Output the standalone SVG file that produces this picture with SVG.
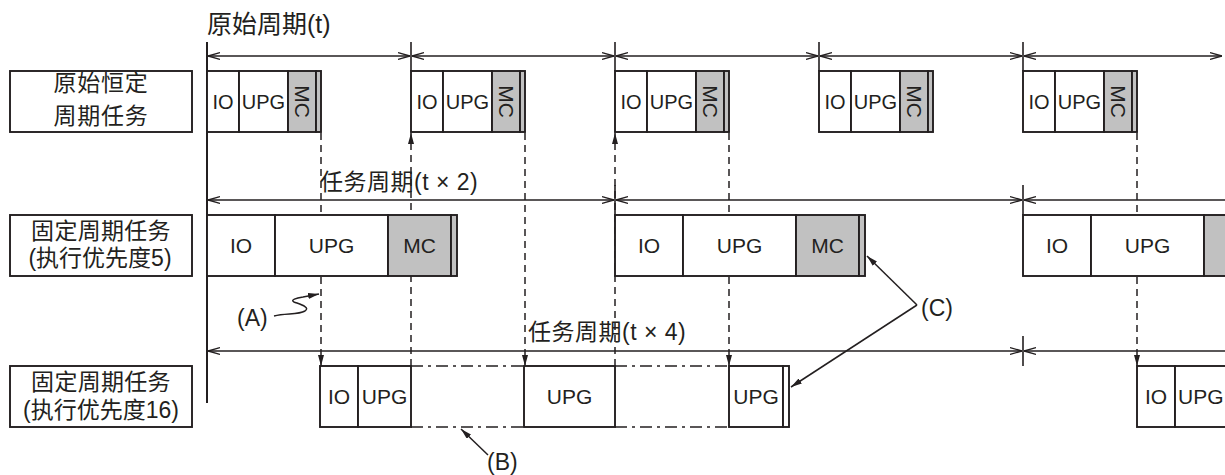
<svg xmlns="http://www.w3.org/2000/svg" width="1225" height="475" viewBox="0 0 1225 475">
<style>
.bg{fill:#fff}
.box{fill:#fff;stroke:#231f20;stroke-width:1.9}
.mc{fill:#c1c1c1;stroke:#231f20;stroke-width:1.9}
.lbl{fill:#fff;stroke:#231f20;stroke-width:1.9}
.t{font-family:"Liberation Sans","Noto Sans CJK SC",sans-serif;fill:#231f20}
.cn{font-family:"Liberation Sans","Noto Sans CJK SC",sans-serif;fill:#231f20;font-size:23px;text-anchor:middle}
.c{text-anchor:middle;font-size:21px}
.ct{text-anchor:middle;font-size:20px}
.dash{stroke:#333;stroke-width:1.3;stroke-dasharray:7 5;fill:none}
.dd{stroke:#231f20;stroke-width:1.7;stroke-dasharray:12 5 3 5;fill:none}
.per{stroke:#231f20;stroke-width:1.3;fill:none;marker-start:url(#open);marker-end:url(#open)}
.perL{stroke:#231f20;stroke-width:1.3;fill:none;marker-start:url(#open)}
.tick{stroke:#231f20;stroke-width:1.6}
.ptr{stroke:#231f20;stroke-width:1.5;fill:none;marker-end:url(#fill)}
</style>
<defs>
<marker id="open" viewBox="0 0 12 8" refX="12" refY="4" markerWidth="12" markerHeight="8" markerUnits="userSpaceOnUse" orient="auto-start-reverse">
<path d="M0,0.6 L12,4 L0,7.4" fill="none" stroke="#231f20" stroke-width="1.3"/>
</marker>
<marker id="fill" viewBox="0 0 11 6" refX="11" refY="3" markerWidth="11" markerHeight="6" markerUnits="userSpaceOnUse" orient="auto">
<path d="M0,0 L11,3 L0,6 Z" fill="#231f20"/>
</marker>
</defs>
<rect class="bg" x="0" y="0" width="1225" height="475"/>

<g id="connectors">
<line class="dash ptr" x1="321" y1="133" x2="321" y2="366"/>
<line class="dash ptr" x1="411" y1="366" x2="411" y2="133"/>
<line class="dash ptr" x1="525" y1="133" x2="525" y2="366"/>
<line class="dash ptr" x1="615" y1="366" x2="615" y2="133"/>
<line class="dash ptr" x1="729" y1="133" x2="729" y2="366"/>
<line class="dash ptr" x1="1137" y1="133" x2="1137" y2="366"/>
<line x1="207" y1="42" x2="207" y2="403" stroke="#231f20" stroke-width="2"/>
<line class="tick" x1="411" y1="42" x2="411" y2="71"/>
<line class="tick" x1="615" y1="42" x2="615" y2="71"/>
<line class="tick" x1="819" y1="42" x2="819" y2="71"/>
<line class="tick" x1="1023" y1="42" x2="1023" y2="71"/>
<line class="per" x1="208" y1="56" x2="410" y2="56"/>
<line class="per" x1="412" y1="56" x2="614" y2="56"/>
<line class="per" x1="616" y1="56" x2="818" y2="56"/>
<line class="per" x1="820" y1="56" x2="1022" y2="56"/>
<line class="per" x1="1024" y1="56" x2="1222" y2="56"/>
<line class="tick" x1="615" y1="185" x2="615" y2="215"/>
<line class="tick" x1="1023" y1="185" x2="1023" y2="215"/>
<line class="per" x1="208" y1="200" x2="614" y2="200"/>
<line class="per" x1="616" y1="200" x2="1022" y2="200"/>
<line class="perL" x1="1024" y1="200" x2="1225" y2="200"/>
<line class="tick" x1="1023" y1="336" x2="1023" y2="366"/>
<line class="per" x1="208" y1="351" x2="1022" y2="351"/>
<line class="perL" x1="1024" y1="351" x2="1225" y2="351"/>
<path class="ptr" d="M274,316 C286,313 298,315 305,311 C311,307 299,304 294,302 C290,300 296,298 303,297 L319,294"/>
<line class="ptr" x1="488" y1="455" x2="461" y2="429"/>
<line class="ptr" x1="917" y1="305" x2="867" y2="256"/>
<line class="ptr" x1="917" y1="305" x2="791" y2="387"/>
</g>

<g id="title"><text class="t" x="207" y="33" font-size="25">原始周期(t)</text></g>
<g id="label-t2"><text class="t" x="320" y="190" font-size="23" letter-spacing="0.5">任务周期(t × 2)</text></g>
<g id="label-t4"><text class="t" x="528" y="340" font-size="23" letter-spacing="0.5">任务周期(t × 4)</text></g>
<g id="label-A"><text class="t" x="237" y="326" font-size="23">(A)</text></g>
<g id="label-B"><text class="t" x="487" y="470" font-size="23">(B)</text></g>
<g id="label-C"><text class="t" x="921" y="316" font-size="23">(C)</text></g>

<g id="row1-label">
<rect class="lbl" x="10" y="71" width="182" height="61"/>
<text class="cn" x="101" y="91" letter-spacing="0.8">原始恒定</text>
<text class="cn" x="101" y="124" letter-spacing="0.8">周期任务</text>
</g>
<g id="row2-label">
<rect class="lbl" x="10" y="215" width="182" height="61"/>
<text class="cn" x="101" y="239" letter-spacing="0.3">固定周期任务</text>
<text class="cn" x="100" y="266">(执行优先度5)</text>
</g>
<g id="row3-label">
<rect class="lbl" x="10" y="366" width="182" height="61"/>
<text class="cn" x="101" y="390" letter-spacing="0.3">固定周期任务</text>
<text class="cn" x="101" y="418">(执行优先度16)</text>
</g>

<g id="top1" transform="translate(207,71)">
<rect class="box" x="0" y="0" width="32" height="61"/><rect class="box" x="32" y="0" width="49" height="61"/>
<rect class="mc" x="81" y="0" width="28" height="61"/><rect class="mc" x="109" y="0" width="5" height="61"/>
<text class="t ct" x="16" y="38">IO</text><text class="t ct" x="56.5" y="38">UPG</text>
<text class="t c" transform="translate(95,30.5) rotate(90)" y="7">MC</text>
</g>
<g id="top2" transform="translate(411,71)">
<rect class="box" x="0" y="0" width="32" height="61"/><rect class="box" x="32" y="0" width="49" height="61"/>
<rect class="mc" x="81" y="0" width="28" height="61"/><rect class="mc" x="109" y="0" width="5" height="61"/>
<text class="t ct" x="16" y="38">IO</text><text class="t ct" x="56.5" y="38">UPG</text>
<text class="t c" transform="translate(95,30.5) rotate(90)" y="7">MC</text>
</g>
<g id="top3" transform="translate(615,71)">
<rect class="box" x="0" y="0" width="32" height="61"/><rect class="box" x="32" y="0" width="49" height="61"/>
<rect class="mc" x="81" y="0" width="28" height="61"/><rect class="mc" x="109" y="0" width="5" height="61"/>
<text class="t ct" x="16" y="38">IO</text><text class="t ct" x="56.5" y="38">UPG</text>
<text class="t c" transform="translate(95,30.5) rotate(90)" y="7">MC</text>
</g>
<g id="top4" transform="translate(819,71)">
<rect class="box" x="0" y="0" width="32" height="61"/><rect class="box" x="32" y="0" width="49" height="61"/>
<rect class="mc" x="81" y="0" width="28" height="61"/><rect class="mc" x="109" y="0" width="5" height="61"/>
<text class="t ct" x="16" y="38">IO</text><text class="t ct" x="56.5" y="38">UPG</text>
<text class="t c" transform="translate(95,30.5) rotate(90)" y="7">MC</text>
</g>
<g id="top5" transform="translate(1023,71)">
<rect class="box" x="0" y="0" width="32" height="61"/><rect class="box" x="32" y="0" width="49" height="61"/>
<rect class="mc" x="81" y="0" width="28" height="61"/><rect class="mc" x="109" y="0" width="5" height="61"/>
<text class="t ct" x="16" y="38">IO</text><text class="t ct" x="56.5" y="38">UPG</text>
<text class="t c" transform="translate(95,30.5) rotate(90)" y="7">MC</text>
</g>

<g id="mid1" transform="translate(207,215)">
<rect class="box" x="0" y="0" width="68" height="61"/><rect class="box" x="68" y="0" width="113" height="61"/>
<rect class="mc" x="181" y="0" width="63" height="61"/><rect class="mc" x="244" y="0" width="6" height="61"/>
<text class="t c" x="34" y="38">IO</text><text class="t c" x="124.5" y="38">UPG</text><text class="t c" x="212.5" y="38">MC</text>
</g>
<g id="mid2" transform="translate(615,215)">
<rect class="box" x="0" y="0" width="68" height="61"/><rect class="box" x="68" y="0" width="113" height="61"/>
<rect class="mc" x="181" y="0" width="63" height="61"/><rect class="mc" x="244" y="0" width="6" height="61"/>
<text class="t c" x="34" y="38">IO</text><text class="t c" x="124.5" y="38">UPG</text><text class="t c" x="212.5" y="38">MC</text>
</g>
<g id="mid3" transform="translate(1023,215)">
<rect class="box" x="0" y="0" width="68" height="61"/><rect class="box" x="68" y="0" width="113" height="61"/>
<rect class="mc" x="181" y="0" width="63" height="61"/>
<text class="t c" x="34" y="38">IO</text><text class="t c" x="124.5" y="38">UPG</text>
</g>

<g id="bot1">
<line class="dd" x1="411" y1="366" x2="524" y2="366"/>
<line class="dd" x1="411" y1="427" x2="524" y2="427"/>
<line class="dd" x1="615" y1="366" x2="729" y2="366"/>
<line class="dd" x1="615" y1="427" x2="729" y2="427"/>
<rect class="box" x="320" y="366" width="38" height="61"/><rect class="box" x="358" y="366" width="53" height="61"/>
<rect class="box" x="524" y="366" width="91" height="61"/>
<rect class="box" x="729" y="366" width="54" height="61"/><rect class="box" x="783" y="366" width="6" height="61"/>
<text class="t c" x="339" y="404">IO</text><text class="t c" x="384.5" y="404">UPG</text>
<text class="t c" x="569.5" y="404">UPG</text>
<text class="t c" x="756" y="404">UPG</text>
</g>
<g id="bot2">
<rect class="box" x="1137" y="366" width="38" height="61"/><rect class="box" x="1175" y="366" width="60" height="61"/>
<text class="t c" x="1156" y="404">IO</text><text class="t" x="1178" y="404" font-size="21">UPG</text>
</g>
</svg>
